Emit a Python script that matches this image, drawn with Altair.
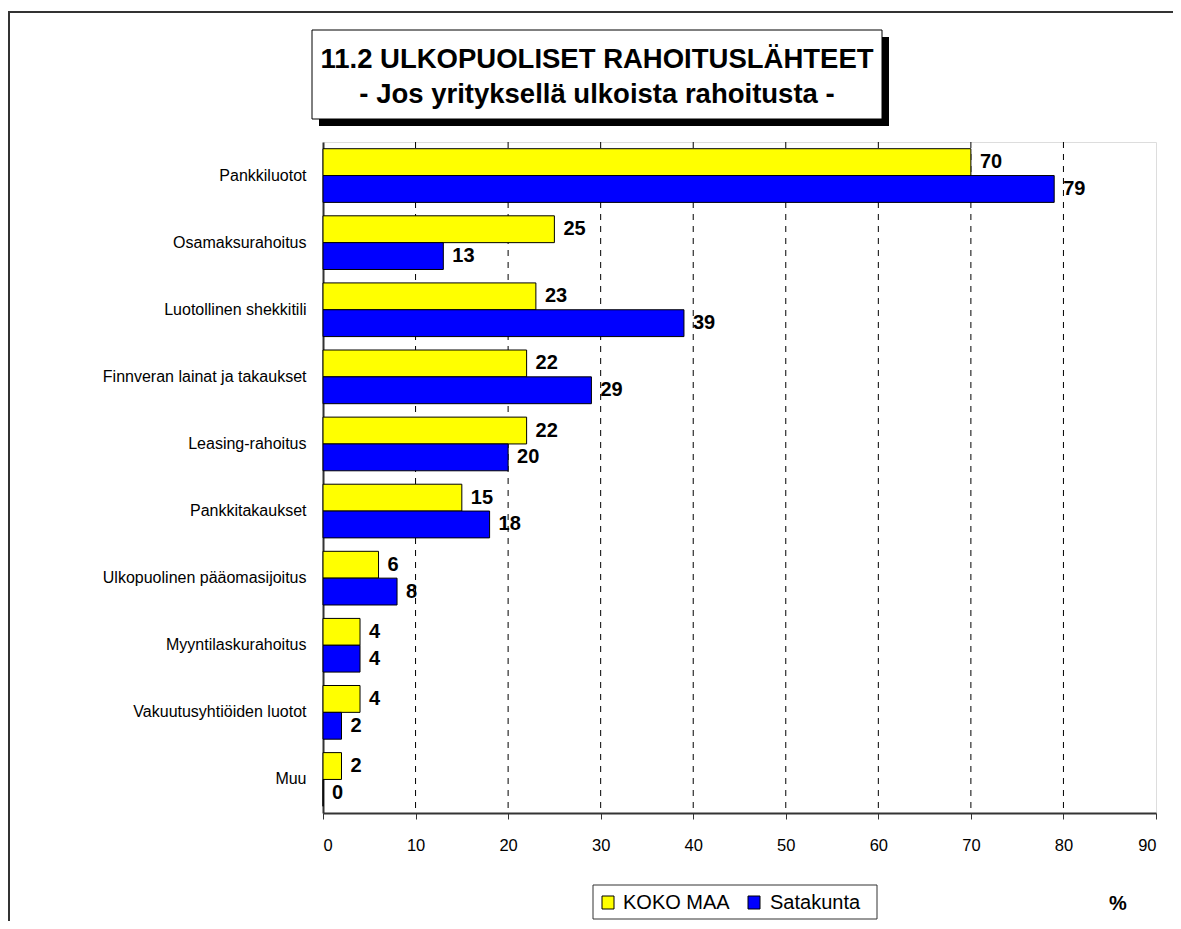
import altair as alt
import pandas as pd

categories = ["Pankkiluotot", "Osamaksurahoitus", "Luotollinen shekkitili",
              "Finnveran lainat ja takaukset", "Leasing-rahoitus", "Pankkitakaukset",
              "Ulkopuolinen pääomasijoitus", "Myyntilaskurahoitus",
              "Vakuutusyhtiöiden luotot", "Muu"]
series_names = ["KOKO MAA", "Satakunta"]
koko_maa = [70, 25, 23, 22, 22, 15, 6, 4, 4, 2]
satakunta = [79, 13, 39, 29, 20, 18, 8, 4, 2, 0]
x_ticks = [0, 10, 20, 30, 40, 50, 60, 70, 80, 90]
grid_values = [10, 20, 30, 40, 50, 60, 70, 80]
colors = ["#FFFF00", "#0000FF"]
title_lines = ["11.2 ULKOPUOLISET RAHOITUSLÄHTEET", "- Jos yrityksellä ulkoista rahoitusta -"]

rows = []
for c, a, b in zip(categories, koko_maa, satakunta):
    rows.append({"category": c, "series": series_names[0], "value": a})
    rows.append({"category": c, "series": series_names[1], "value": b})
df = pd.DataFrame(rows)

W, H = 833, 671
FONT = "Liberation Sans"

one = pd.DataFrame({"k": [0]})

xscale = alt.Scale(domain=[0, 90], nice=False, zero=True)
x_axis = alt.Axis(values=x_ticks, grid=False, title=None, labelFontSize=16.5,
                  labelColor="black", domainColor="#333333", domainWidth=2,
                  tickColor="#333333", tickSize=6, tickWidth=1, labelPadding=18,
                  labelFont=FONT)
y_axis = alt.Axis(title=None, ticks=False, labelFontSize=16, labelColor="black",
                  domainColor="#333333", domainWidth=2, labelPadding=17,
                  labelFont=FONT, labelLimit=300)
yscale = alt.Scale(paddingInner=0.2, paddingOuter=0.1)
yoff = alt.YOffset("series:N", sort=series_names,
                   scale=alt.Scale(paddingInner=0, paddingOuter=0))

outer = alt.Chart(one).mark_rect(fill=None, stroke="#333333", strokeWidth=2).encode(
    x=alt.value(-314), x2=alt.value(870), y=alt.value(-130), y2=alt.value(900))

grid = alt.Chart(pd.DataFrame({"value": grid_values})).mark_rule(
    color="black", strokeWidth=1, strokeDash=[6, 6]).encode(
    x=alt.X("value:Q", scale=xscale, axis=x_axis, title=None),
    y=alt.value(0), y2=alt.value(H))

bars = alt.Chart(df).mark_bar(stroke="black", strokeWidth=1).encode(
    x=alt.X("value:Q", scale=xscale, axis=x_axis, title=None),
    y=alt.Y("category:N", sort=categories, scale=yscale, axis=y_axis, title=None),
    yOffset=yoff,
    color=alt.Color("series:N", scale=alt.Scale(domain=series_names, range=colors), legend=None))

labels = alt.Chart(df).mark_text(align="left", baseline="middle", dx=9, fontSize=20,
                                 fontWeight="bold", color="black", font=FONT).encode(
    x=alt.X("value:Q", scale=xscale, axis=x_axis, title=None),
    y=alt.Y("category:N", sort=categories, scale=yscale, axis=y_axis, title=None),
    yOffset=yoff, text=alt.Text("value:Q"))

shadow = alt.Chart(one).mark_rect(fill="black").encode(
    x=alt.value(-4), x2=alt.value(566), y=alt.value(-105), y2=alt.value(-16))
tbox = alt.Chart(one).mark_rect(fill="white", stroke="black", strokeWidth=1).encode(
    x=alt.value(-11), x2=alt.value(559), y=alt.value(-112), y2=alt.value(-23))
t1 = alt.Chart(one).mark_text(text=title_lines[0], fontSize=27.5, fontWeight="bold",
                              font=FONT, align="center", baseline="middle", color="black").encode(
    x=alt.value(274), y=alt.value(-82))
t2 = alt.Chart(one).mark_text(text=title_lines[1], fontSize=27.5, fontWeight="bold",
                              font=FONT, align="center", baseline="middle", color="black").encode(
    x=alt.value(274), y=alt.value(-47))

lbox = alt.Chart(one).mark_rect(fill="white", stroke="#333333", strokeWidth=1).encode(
    x=alt.value(270), x2=alt.value(554), y=alt.value(743), y2=alt.value(777))

legend_layers = []
for name, col, sx, tx in zip(series_names, colors, [279, 425], [300, 447]):
    legend_layers.append(alt.Chart(one).mark_rect(fill=col, stroke="black", strokeWidth=1).encode(
        x=alt.value(sx), x2=alt.value(sx + 12), y=alt.value(754), y2=alt.value(767)))
    legend_layers.append(alt.Chart(one).mark_text(text=name, align="left", baseline="middle",
                                                  fontSize=20, font=FONT, color="black").encode(
        x=alt.value(tx), y=alt.value(761)))

pct = alt.Chart(one).mark_text(text="%", fontSize=20, fontWeight="bold", font=FONT,
                               align="center", baseline="middle", color="black").encode(
    x=alt.value(795), y=alt.value(762))

chart = alt.layer(outer, grid, bars, labels, shadow, tbox, t1, t2, lbox, *legend_layers, pct).properties(
    width=W, height=H,
    autosize=alt.AutoSizeParams(type="none"),
    padding={"left": 315, "top": 134, "right": 17, "bottom": 108},
).configure_view(stroke="#8c8c8c", strokeWidth=2).configure(font=FONT, background="white")

chart.save("out.html", embed_options={"renderer": "svg", "actions": False})
